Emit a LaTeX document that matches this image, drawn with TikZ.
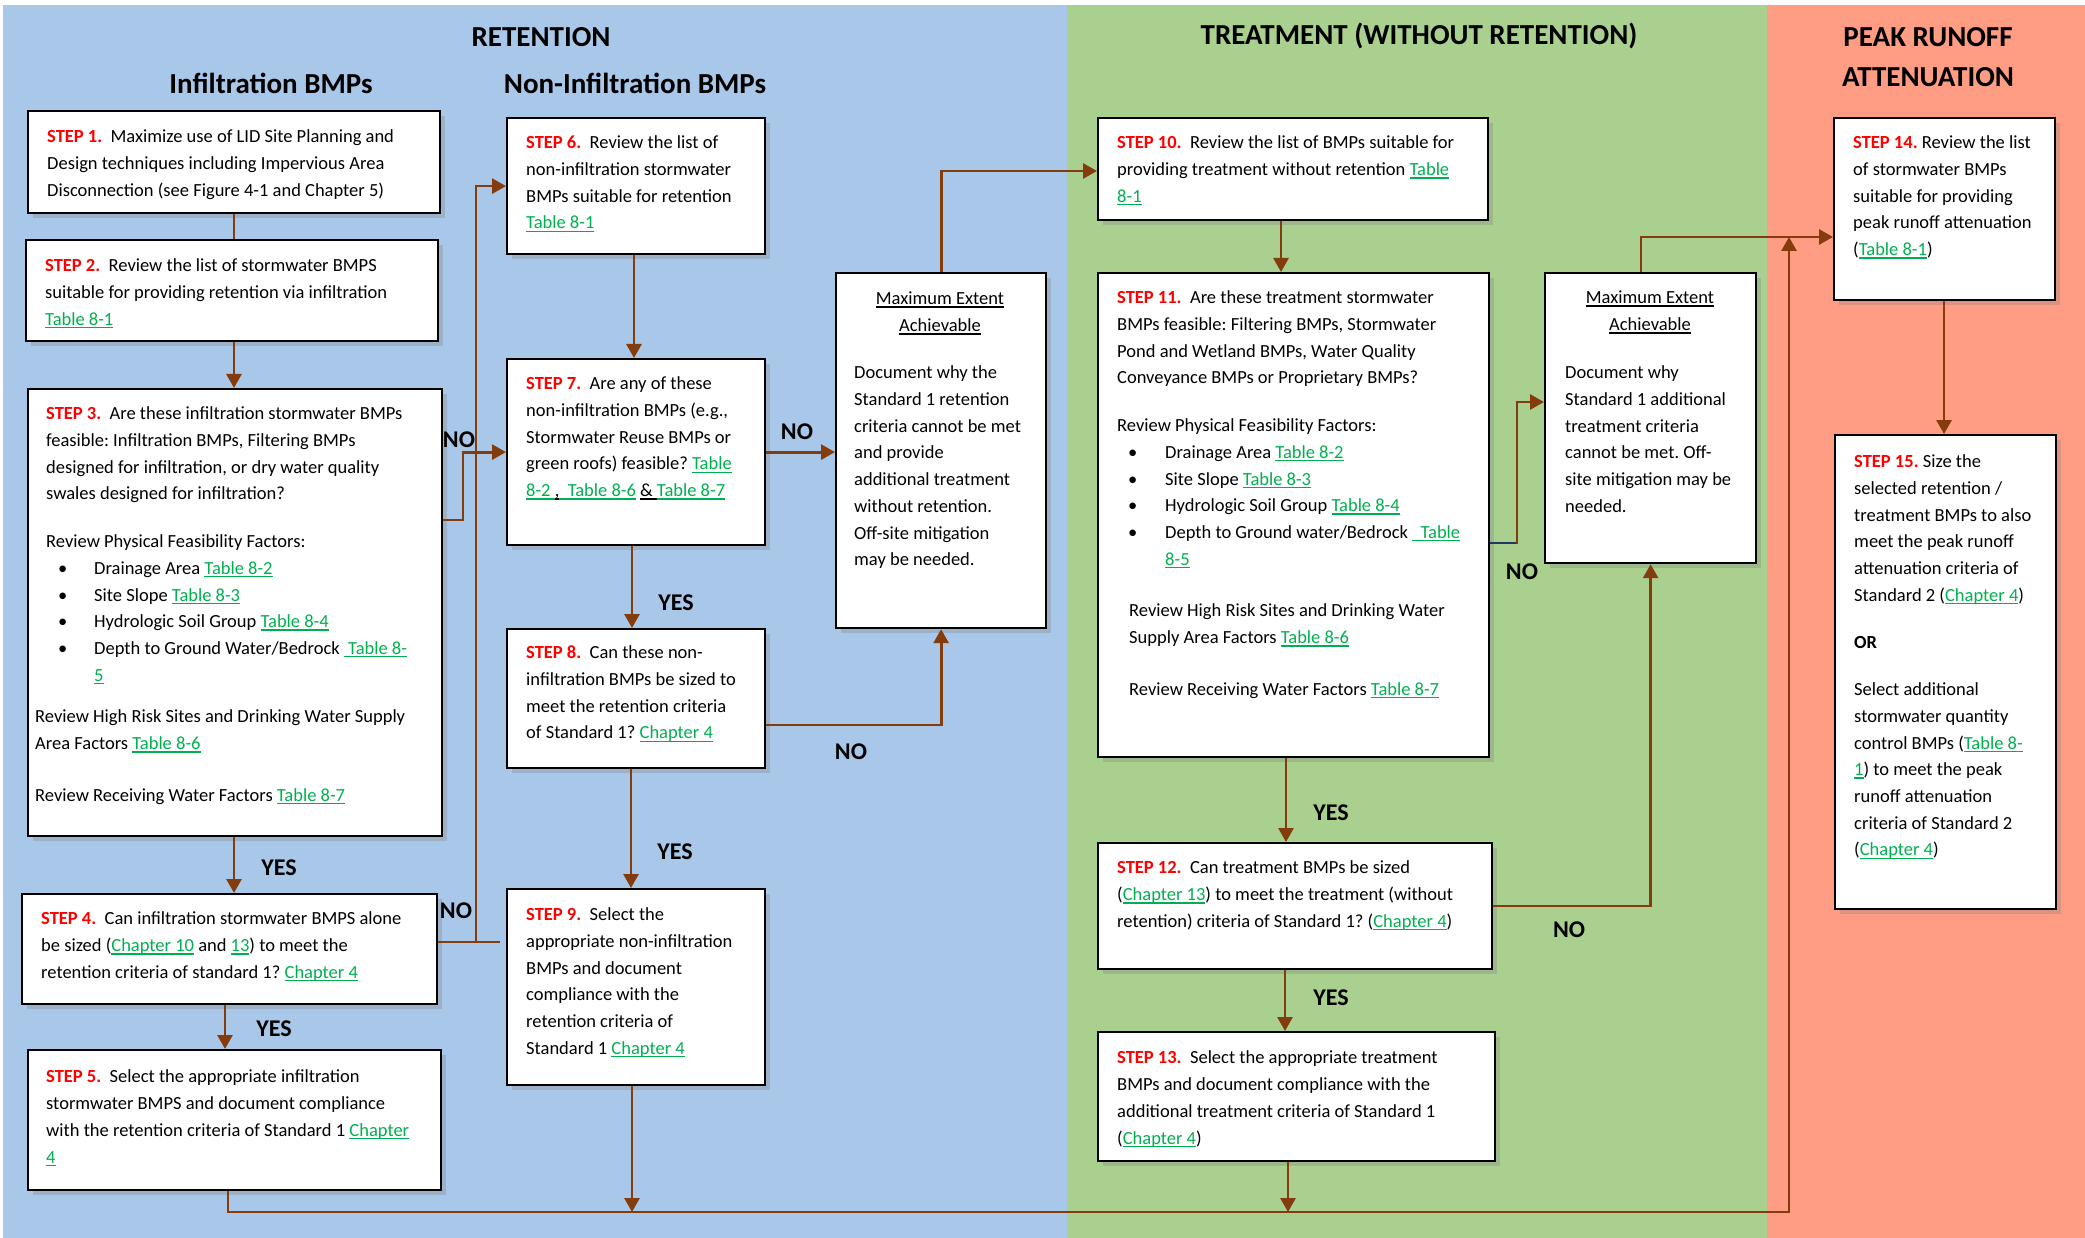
\documentclass[tikz,border=0pt]{standalone}
\usepackage{fontspec}
\setmainfont{Carlito}
\usetikzlibrary{arrows.meta,shadows}
\definecolor{bgblue}{HTML}{A9C7E8}
\definecolor{bggreen}{HTML}{A9D08E}
\definecolor{bgsalmon}{HTML}{FF9C84}
\definecolor{conbrown}{HTML}{843C0C}
\definecolor{stepred}{HTML}{FF0000}
\definecolor{lgreen}{HTML}{00B050}
\definecolor{navyline}{HTML}{1F3864}
\newsavebox\ulbox
\newcommand\ulx[1]{\sbox\ulbox{#1}\rlap{\rule[-3pt]{\wd\ulbox}{1.4pt}}\usebox\ulbox}
\newcommand\lnk[1]{{\color{lgreen}\ulx{#1}}}
\newcommand\stepl[1]{{\color{stepred}\bfseries #1}}
\newcommand\bul[3]{\hspace*{#1}\makebox[#2][l]{\textbullet}#3}
\begin{document}
\frenchspacing
\begin{tikzpicture}[x=1pt,y=-1pt,
  box/.style={draw=black, line width=2.2pt, fill=white, inner sep=0pt, anchor=north west,
    drop shadow={shadow xshift=5pt, shadow yshift=-5pt, opacity=0.3}},
  txt/.style={anchor=north west, inner sep=0pt, align=left, font=\fontsize{18.5pt}{26.7pt}\selectfont\frenchspacing},
  txth/.style={anchor=north, inner sep=0pt, align=center, font=\fontsize{18.5pt}{26.7pt}\selectfont\frenchspacing},
  head/.style={anchor=base, inner sep=0pt, font=\fontsize{29pt}{34pt}\selectfont\bfseries},
  lab/.style={anchor=center, inner sep=0pt, font=\fontsize{24pt}{28pt}\selectfont\bfseries},
  con/.style={draw=conbrown, line width=2.8pt},
  arr/.style={con, -{Triangle[length=14pt,width=15pt]}}
]
% backgrounds
\fill[white] (0,0) rectangle (2085,1238);
\fill[bgblue] (3,5) rectangle (1067,1238);
\fill[bggreen] (1067,5) rectangle (1767,1238);
\fill[bgsalmon] (1767,5) rectangle (2085,1238);
\useasboundingbox (0,0) rectangle (2085,1238);

% headings
\node[head] (hRet) at (541,47) {RETENTION};
\node[head] (hInf) at (271,94) {Infiltration BMPs};
\node[head] (hNon) at (635,94) {Non-Infiltration BMPs};
\node[head] (hTre) at (1419,45) {TREATMENT (WITHOUT RETENTION)};
\node[head] (hPk1) at (1928,47) {PEAK RUNOFF};
\node[head] (hPk2) at (1928,87) {ATTENUATION};

% boxes
\node[box, minimum width=412pt, minimum height=102pt] (s1) at (27,110) {};
\node[box, minimum width=412pt, minimum height=101pt] (s2) at (25,239) {};
\node[box, minimum width=414pt, minimum height=447pt] (s3) at (27,388) {};
\node[box, minimum width=415pt, minimum height=110pt] (s4) at (21,893) {};
\node[box, minimum width=413pt, minimum height=140pt] (s5) at (27,1049) {};
\node[box, minimum width=258pt, minimum height=136pt] (s6) at (506,117) {};
\node[box, minimum width=258pt, minimum height=186pt] (s7) at (506,358) {};
\node[box, minimum width=258pt, minimum height=139pt] (s8) at (506,628) {};
\node[box, minimum width=258pt, minimum height=196pt] (s9) at (506,888) {};
\node[box, minimum width=210pt, minimum height=355pt] (m1) at (835,272) {};
\node[box, minimum width=390pt, minimum height=102pt] (s10) at (1097,117) {};
\node[box, minimum width=391pt, minimum height=484pt] (s11) at (1097,272) {};
\node[box, minimum width=394pt, minimum height=126pt] (s12) at (1097,842) {};
\node[box, minimum width=397pt, minimum height=129pt] (s13) at (1097,1031) {};
\node[box, minimum width=211pt, minimum height=290pt] (m2) at (1544,272) {};
\node[box, minimum width=221pt, minimum height=182pt] (s14) at (1833,117) {};
\node[box, minimum width=221pt, minimum height=474pt] (s15) at (1834,434) {};

% texts
\node[txt] (t1) at (47,124) {\strut\stepl{STEP 1.}\ \ Maximize use of LID Site Planning and\\
Design techniques including Impervious Area\\
Disconnection (see Figure 4-1 and Chapter 5)};
\node[txt] (t2) at (45,253) {\strut\stepl{STEP 2.}\ \ Review the list of stormwater BMPS\\
suitable for providing retention via infiltration\\
\lnk{Table 8-1}};
\node[txt] (t3) at (35,401) {\strut\hspace*{11pt}\stepl{STEP 3.}\ \ Are these infiltration stormwater BMPs\\
\hspace*{11pt}feasible: Infiltration BMPs, Filtering BMPs\\
\hspace*{11pt}designed for infiltration, or dry water quality\\
\hspace*{11pt}swales designed for infiltration?\\[21pt]
\hspace*{11pt}Review Physical Feasibility Factors:\\
\bul{23pt}{36pt}{Drainage Area \lnk{Table 8-2}}\\
\bul{23pt}{36pt}{Site Slope \lnk{Table 8-3}}\\
\bul{23pt}{36pt}{Hydrologic Soil Group \lnk{Table 8-4}}\\
\bul{23pt}{36pt}{Depth to Ground Water/Bedrock \lnk{~Table 8-}}\\
\hspace*{59pt}\lnk{5}\\[15pt]
Review High Risk Sites and Drinking Water Supply\\
Area Factors \lnk{Table 8-6}\\[25pt]
Review Receiving Water Factors \lnk{Table 8-7}};
\node[txt] (t4) at (41,906) {\strut\stepl{STEP 4.}\ \ Can infiltration stormwater BMPS alone\\
be sized (\lnk{Chapter 10} and \lnk{13}) to meet the\\
retention criteria of standard 1? \lnk{Chapter 4}};
\node[txt] (t5) at (46,1064) {\strut\stepl{STEP 5.}\ \ Select the appropriate infiltration\\
stormwater BMPS and document compliance\\
with the retention criteria of Standard 1 \lnk{Chapter}\\
\lnk{4}};
\node[txt] (t6) at (526,130) {\strut\stepl{STEP 6.}\ \ Review the list of\\
non-infiltration stormwater\\
BMPs suitable for retention\\
\lnk{Table 8-1}};
\node[txt] (t7) at (526,371) {\strut\stepl{STEP 7.}\ \ Are any of these\\
non-infiltration BMPs (e.g.,\\
Stormwater Reuse BMPs or\\
green roofs) feasible? \lnk{Table}\\
\lnk{8-2~}\ulx{,}\lnk{~~Table 8-6}~\ulx{\&~}\lnk{Table 8-7}};
\node[txt] (t8) at (526,640) {\strut\stepl{STEP 8.}\ \ Can these non-\\
infiltration BMPs be sized to\\
meet the retention criteria\\
of Standard 1? \lnk{Chapter 4}};
\node[txt] (t9) at (526,902) {\strut\stepl{STEP 9.}\ \ Select the\\
appropriate non-infiltration\\
BMPs and document\\
compliance with the\\
retention criteria of\\
Standard 1 \lnk{Chapter 4}};
\node[txth] (m1h) at (940,286) {\strut\ulx{Maximum Extent}\\\ulx{Achievable}};
\node[txt] (m1b) at (854,360) {\strut Document why the\\
Standard 1 retention\\
criteria cannot be met\\
and provide\\
additional treatment\\
without retention.\\
Off-site mitigation\\
may be needed.};
\node[txt] (t10) at (1117,130) {\strut\stepl{STEP 10.}\ \ Review the list of BMPs suitable for\\
providing treatment without retention \lnk{Table}\\
\lnk{8-1}};
\node[txt] (t11) at (1117,285) {\strut\stepl{STEP 11.}\ \ Are these treatment stormwater\\
BMPs feasible: Filtering BMPs, Stormwater\\
Pond and Wetland BMPs, Water Quality\\
Conveyance BMPs or Proprietary BMPs?\\[21pt]
Review Physical Feasibility Factors:\\
\bul{11pt}{37pt}{Drainage Area \lnk{Table 8-2}}\\
\bul{11pt}{37pt}{Site Slope \lnk{Table 8-3}}\\
\bul{11pt}{37pt}{Hydrologic Soil Group \lnk{Table 8-4}}\\
\bul{11pt}{37pt}{Depth to Ground water/Bedrock \lnk{~~Table}}\\
\hspace*{48pt}\lnk{8-5}\\[25pt]
\hspace*{12pt}Review High Risk Sites and Drinking Water\\
\hspace*{12pt}Supply Area Factors \lnk{Table 8-6}\\[25pt]
\hspace*{12pt}Review Receiving Water Factors \lnk{Table 8-7}};
\node[txt] (t12) at (1117,855) {\strut\stepl{STEP 12.}\ \ Can treatment BMPs be sized\\
(\lnk{Chapter 13}) to meet the treatment (without\\
retention) criteria of Standard 1? (\lnk{Chapter 4})};
\node[txt] (t13) at (1117,1045) {\strut\stepl{STEP 13.}\ \ Select the appropriate treatment\\
BMPs and document compliance with the\\
additional treatment criteria of Standard 1\\
(\lnk{Chapter 4})};
\node[txth] (m2h) at (1650,285) {\strut\ulx{Maximum Extent}\\\ulx{Achievable}};
\node[txt] (m2b) at (1565,360) {\strut Document why\\
Standard 1 additional\\
treatment criteria\\
cannot be met. Off-\\
site mitigation may be\\
needed.};
\node[txt] (t14) at (1853,130) {\strut\stepl{STEP 14.} Review the list\\
of stormwater BMPs\\
suitable for providing\\
peak runoff attenuation\\
(\lnk{Table 8-1})};
\node[txt] (t15) at (1854,449) {\strut\stepl{STEP 15.} Size the\\
selected retention /\\
treatment BMPs to also\\
meet the peak runoff\\
attenuation criteria of\\
Standard 2 (\lnk{Chapter 4})\\[20pt]
\textbf{OR}\\[21pt]
Select additional\\
stormwater quantity\\
control BMPs (\lnk{Table 8-}\\
\lnk{1}) to meet the peak\\
runoff attenuation\\
criteria of Standard 2\\
(\lnk{Chapter 4})};

% junction coordinates
\coordinate (j3) at (463,520);
\coordinate (j4a) at (500,942);
\coordinate (j4) at (476,942);
\coordinate (bot9) at (632,1212);
\coordinate (bot13) at (1288,1212);
\coordinate (botR) at (1789,1212);
\coordinate (up14) at (1789,237);
\coordinate (j11) at (1517,543);

% connectors
\draw[con] (s1.south -| 234,0) -- (s2.north -| 234,0);
\draw[arr] (s2.south -| 234,0) -- (s3.north -| 234,0);
\draw[arr] (s3.south -| 234,0) -- (s4.north -| 234,0);
\draw[arr] (s4.south -| 225,0) -- (s5.north -| 225,0);
\draw[arr] (s3.east |- j3) -- (j3) |- (s7.west);
\draw[con] (s4.east |- j4a) -- (j4a);
\draw[arr] (j4) |- (s6.west);
\draw[arr] (s6.south -| 634,0) -- (s7.north -| 634,0);
\draw[arr] (s7.south -| 632,0) -- (s8.north -| 632,0);
\draw[arr] (s7.east) -- (m1.west |- s7.east);
\draw[arr] (s8.east |- 0,725) -| (m1.south);
\draw[arr] (s8.south -| 631,0) -- (s9.north -| 631,0);
\draw[arr] (m1.north) |- (s10.west |- 0,171);
\draw[arr] (s9.south -| bot9) -- (bot9);
\draw[arr] (s5.south -| 228,0) |- (botR) -- (up14);
\draw[arr] (s13.south -| bot13) -- (bot13);
\draw[arr] (s10.south -| 1281,0) -- (s11.north -| 1281,0);
\draw[arr] (s11.south -| 1286,0) -- (s12.north -| 1286,0);
\draw[arr] (s12.south -| 1285,0) -- (s13.north -| 1285,0);
\draw[arr] (s11.east |- j11) -- (j11) |- (m2.west |- 0,402);
\draw[con, draw=navyline] (s11.east |- j11) -- ([xshift=-1.4pt]j11);
\draw[arr] (s12.east |- 0,906) -| (m2.south);
\draw[arr] (m2.north -| 1641,0) |- (s14.west |- up14);
\draw[arr] (s14.south -| 1944,0) -- (s15.north -| 1944,0);

% labels
\node[lab] (n3) at (459,440) {NO};
\node[lab] (n4) at (456,911) {NO};
\node[lab] (y3) at (279,868) {YES};
\node[lab] (y4) at (274,1029) {YES};
\node[lab] (y7) at (676,603) {YES};
\node[lab] (n7) at (797,432) {NO};
\node[lab] (n8) at (851,752) {NO};
\node[lab] (y8) at (675,852) {YES};
\node[lab] (n11) at (1522,572) {NO};
\node[lab] (y11) at (1331,813) {YES};
\node[lab] (y12) at (1331,998) {YES};
\node[lab] (n12) at (1569,930) {NO};
\end{tikzpicture}
\end{document}
